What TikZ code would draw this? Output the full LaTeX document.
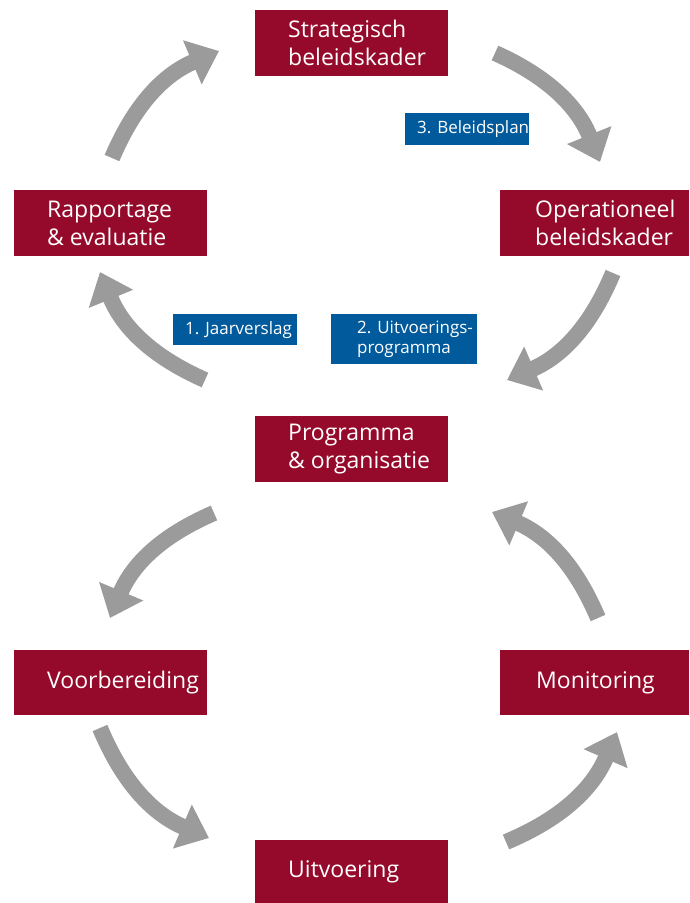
\documentclass[tikz,border=0pt]{standalone}
\usepackage{fontspec}
\setmainfont{Open Sans}
\usetikzlibrary{arrows.meta}
\definecolor{boxred}{RGB}{149,10,43}
\definecolor{labelblue}{RGB}{0,90,155}
\definecolor{arrowgray}{RGB}{155,155,155}

\begin{document}
\begin{tikzpicture}[x=1pt,y=-1pt,
    stage/.style={fill=boxred, anchor=north west, minimum width=193pt, minimum height=66pt, inner sep=0pt},
    stagetext/.style={text=white, anchor=west, align=left, inner sep=0pt, font=\fontsize{23}{28}\selectfont},
    doc/.style={fill=labelblue, anchor=north west, inner sep=0pt},
    doctext/.style={text=white, anchor=west, align=left, inner sep=0pt, font=\fontsize{17}{20}\selectfont},
    cyclearrow/.style={draw=arrowgray, line width=16pt, -{Triangle[width=46pt,length=29pt]}}]
            \useasboundingbox (0,0) rectangle (689,903);

            % Define the stages of the upper cycle
            \node[stage] (strat) at (255,10) {};
            \node[stage, minimum width=189pt] (oper) at (500,190) {};
            \node[stage] (rapp) at (14,190) {};
            \node[stage] (prog) at (255,416) {};
            \node[stagetext] (strat-t) at ([xshift=33pt]strat.west) {Strategisch\\beleidskader};
            \node[stagetext] (oper-t) at ([xshift=35pt]oper.west) {Operationeel\\beleidskader};
            \node[stagetext] (rapp-t) at ([xshift=33pt]rapp.west) {Rapportage\\\& evaluatie};
            \node[stagetext] (prog-t) at ([xshift=33pt]prog.west) {Programma\\\& organisatie};

            % Define the stages of the lower cycle
            \node[stage, minimum height=65pt] (voor) at (14,650) {};
            \node[stage, minimum width=189pt, minimum height=65pt] (moni) at (500,650) {};
            \node[stage, minimum height=63pt] (uitv) at (255,840) {};
            \node[stagetext] (voor-t) at ([xshift=33pt]voor.west) {Voorbereiding};
            \node[stagetext] (moni-t) at ([xshift=36pt]moni.west) {Monitoring};
            \node[stagetext] (uitv-t) at ([xshift=33pt]uitv.west) {Uitvoering};

            % Add the documents
            \node[doc, minimum width=124pt, minimum height=32pt] (plan) at (405,113) {};
            \node[doc, minimum width=124pt, minimum height=31pt] (jaar) at (173,314) {};
            \node[doc, minimum width=146pt, minimum height=50pt] (uprog) at (331,314) {};
            \node[doctext] (plan-t) at ([xshift=12pt]plan.west) {3. Beleidsplan};
            \node[doctext] (jaar-t) at ([xshift=12pt]jaar.west) {1. Jaarverslag};
            \node[doctext] (uprog-t) at ([xshift=26pt]uprog.west) {2. Uitvoerings-\\programma};

            % Arrow ends of the upper cycle
            \coordinate (a1s) at (495,53);  \coordinate (a1e) at (600,162);
            \coordinate (a2s) at (613,273); \coordinate (a2e) at (507,380);
            \coordinate (a3s) at (205,380); \coordinate (a3e) at (100,272);
            \coordinate (a4s) at (112,158); \coordinate (a4e) at (219,51);

            % Arrow ends of the lower cycle
            \coordinate (b1s) at (214,513); \coordinate (b1e) at (110,618);
            \coordinate (b2s) at (100,728); \coordinate (b2e) at (209,838);
            \coordinate (b3s) at (506,842); \coordinate (b3e) at (617,732);
            \coordinate (b4s) at (598,618); \coordinate (b4e) at (492,512);

            % Draw the arrows
            \draw[cyclearrow] (a1s) to[bend left=22] (a1e);
            \draw[cyclearrow] (a2s) to[bend left=22] (a2e);
            \draw[cyclearrow] (a3s) to[bend left=22] (a3e);
            \draw[cyclearrow] (a4s) to[bend left=22] (a4e);
            \draw[cyclearrow] (b1s) to[bend right=22] (b1e);
            \draw[cyclearrow] (b2s) to[bend right=22] (b2e);
            \draw[cyclearrow] (b3s) to[bend right=22] (b3e);
            \draw[cyclearrow] (b4s) to[bend right=22] (b4e);
        \end{tikzpicture}
\end{document}
